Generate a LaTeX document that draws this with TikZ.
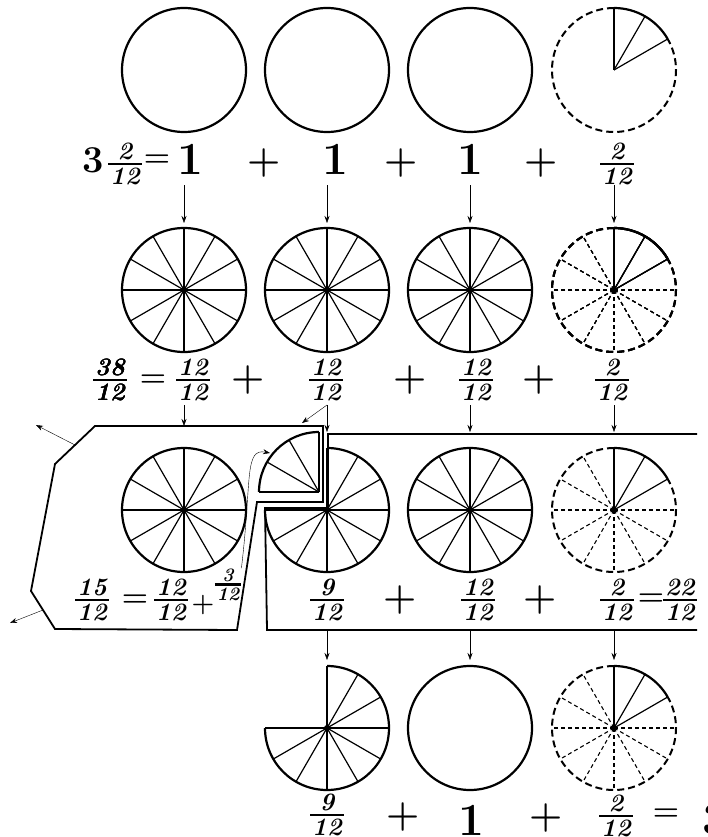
\documentclass[tikz,border=0pt]{standalone}
\usepackage{amsmath}
\usepackage{tikz}
\usetikzlibrary{calc,arrows.meta}

\tikzset{
  rim/.style={line width=2.2pt},
  spoke/.style={line width=1.2pt},
  dashrim/.style={line width=2pt, dash pattern=on 7pt off 4pt},
  dashspoke/.style={line width=1.1pt, dash pattern=on 4pt off 3pt},
  frame/.style={line width=1.8pt, line join=miter},
  numtext/.style={font=\fontsize{46}{46}\selectfont\bfseries, inner sep=0pt},
  fractext/.style={font=\fontsize{25}{25}\selectfont\bfseries\itshape, inner sep=0pt, yshift=-3pt},
  smallfrac/.style={font=\fontsize{19}{19}\selectfont\bfseries\itshape, inner sep=0pt, yshift=-2pt},
  signtext/.style={font=\fontsize{38}{38}\selectfont\bfseries, inner sep=0pt},
  eqtext/.style={font=\fontsize{30}{30}\selectfont\bfseries, inner sep=0pt},
}
\newcommand{\fr}[2]{{\setlength{\arrayrulewidth}{2.4pt}%
  \begin{tabular}{@{\hspace{2pt}}c@{\hspace{2pt}}}#1\\[-4pt]\hline\rule{0pt}{0.76em}#2\end{tabular}}}
% whole circle cut in twelfths
\newcommand{\twelfths}[1]{%
  \draw[rim] (#1) circle (62pt);
  \foreach \a in {0,30,...,330} \draw[spoke] (#1) -- ++(\a:62pt);
  \fill (#1) circle (3pt);}
% dashed whole with two solid twelfths
\newcommand{\twopart}[1]{%
  \draw[dashrim] (#1) ++(90:62pt) arc[start angle=90, end angle=390, radius=62pt];
  \draw[rim] (#1) ++(30:62pt) arc[start angle=30, end angle=90, radius=62pt];
  \foreach \a in {30,60,90} \draw[spoke] (#1) -- ++(\a:62pt);}
\newcommand{\dashspokes}[1]{%
  \foreach \a in {120,150,...,360} \draw[dashspoke] (#1) -- ++(\a:62pt);
  \fill (#1) circle (3pt);}
% nine twelfths, top left quarter taken away
\newcommand{\ninepart}[1]{%
  \draw[rim] (#1) ++(90:62pt) arc[start angle=90, end angle=-180, radius=62pt];
  \foreach \a in {-180,-150,...,90} \draw[spoke] (#1) -- ++(\a:62pt);
  \fill (#1) circle (3pt);}

\begin{document}
\begin{tikzpicture}[x=1pt, y=-1pt, >={Stealth[length=7pt,width=5pt]}]
        \useasboundingbox (0,0) rectangle (708,837);
        \clip (0,0) rectangle (708,837);
        % Circle centres, row by row
        \foreach \i/\x in {1/184, 2/327, 3/470, 4/614} {
          \coordinate (c1\i) at (\x,70);
          \coordinate (c2\i) at (\x,290);
          \coordinate (c3\i) at (\x,510);
          \coordinate (c4\i) at (\x,728);
        }
        \coordinate (q) at (319,492);
        % Row 1: three wholes and two twelfths
        \foreach \i in {1,2,3} \draw[rim] (c1\i) circle (62pt);
        \twopart{c14}
        \node[numtext, font=\fontsize{38}{38}\selectfont\bfseries] (n13) at (93,160) {3};
        \node[fractext] (f11) at (125,164) {\fr{2}{12}};
        \node[eqtext] (e11) at (157,161) {=};
        \node[numtext] (n11) at (190,159) {1};
        \node[signtext] (p11) at (264,163) {+};
        \node[numtext] (n12) at (335,159) {1};
        \node[signtext] (p12) at (401,163) {+};
        \node[numtext] (n14) at (470,159) {1};
        \node[signtext] (p13) at (541,163) {+};
        \node[fractext] (f12) at (617,164) {\fr{2}{12}};
        \foreach \i in {1,...,4} \draw[->, thin] ($(c1\i)+(0,115)$) -- ($(c2\i)+(0,-67)$);
        % Row 2: every whole cut in twelfths
        \foreach \i in {1,2,3} \twelfths{c2\i}
        \twopart{c24}
        \dashspokes{c24}
        \node[fractext] (f21) at (110,380) {\fr{38}{12}};
        \node[eqtext] (e21) at (153,381) {=};
        \node[fractext] (f22) at (193,380) {\fr{12}{12}};
        \node[signtext] (p21) at (248,380) {+};
        \node[fractext] (f23) at (326,380) {\fr{12}{12}};
        \node[signtext] (p22) at (410,380) {+};
        \node[fractext] (f24) at (476,380) {\fr{12}{12}};
        \node[signtext] (p23) at (539,380) {+};
        \node[fractext] (f25) at (612,380) {\fr{2}{12}};
        \draw[->, thin] ($(c21)+(0,115)$) -- ($(c31)+(0,-84)$);
        \foreach \i in {2,3,4} \draw[->, thin] ($(c2\i)+(0,115)$) -- ($(c3\i)+(0,-78)$);
        \draw[->, thin] ($(c22)+(0,115)$) -- ($(c22)+(-25,133)$);
        % Row 3: a quarter moved over to the first whole
        \twelfths{c31}
        \ninepart{c32}
        \draw[rim] (q) ++(90:60pt) arc[start angle=90, end angle=180, radius=60pt];
        \foreach \a in {90,120,150,180} \draw[spoke] (q) -- ++(\a:60pt);
        \twelfths{c33}
        \twopart{c34}
        \dashspokes{c34}
        % Frames round the two sums
        \draw[frame] (95,426) -- (323,426) -- (323,502) -- (257,502) -- (237,630)
          -- (55,629) coordinate (lb) -- (31,591) -- (55,464) coordinate (lt) -- cycle;
        \draw[frame] (697,434) -- (328,434) -- (328,508) -- (265,508) -- (267,630) -- (697,630);
        \draw[->, thin] ($(lt)!0.5!(95,426)$) -- (36,425);
        \draw[->, thin] ($(lb)!0.5!(31,591)$) -- (10,623);
        \node[fractext] (f31) at (92,600) {\fr{15}{12}};
        \node[eqtext] (e31) at (135,601) {=};
        \node[fractext] (f32) at (171,600) {\fr{12}{12}};
        \node[signtext, font=\fontsize{26}{26}\selectfont\bfseries] (p31) at (203,605) {+};
        \node[smallfrac] (f33) at (228,585) {\fr{3}{12}};
        \draw[->, thin] (f33.north east) .. controls (252,480) and (244,448) .. (270,453);
        \node[fractext] (f34) at (327,600) {\fr{9}{12}};
        \node[signtext] (p32) at (400,600) {+};
        \node[fractext] (f35) at (478,600) {\fr{12}{12}};
        \node[signtext] (p33) at (540,600) {+};
        \node[fractext] (f36) at (617,600) {\fr{2}{12}};
        \node[eqtext] (e32) at (651,600) {=};
        \node[fractext, anchor=west] (f37) at (663,600) {\fr{22}{12}};
        \foreach \i in {2,3,4} \draw[->, thin] ($(c3\i)+(0,120)$) -- ($(c4\i)+(0,-68)$);
        % Row 4: what is left
        \ninepart{c42}
        \draw[rim] (c43) circle (62pt);
        \twopart{c44}
        \dashspokes{c44}
        \node[fractext] (f41) at (327,815) {\fr{9}{12}};
        \node[signtext] (p41) at (403,817) {+};
        \node[numtext] (n41) at (471,820) {1};
        \node[signtext] (p42) at (546,818) {+};
        \node[fractext] (f42) at (616,816) {\fr{2}{12}};
        \node[eqtext] (e41) at (666,815) {=};
        \node[numtext, anchor=west] (n42) at (702,820) {3};
      \end{tikzpicture}
\end{document}
